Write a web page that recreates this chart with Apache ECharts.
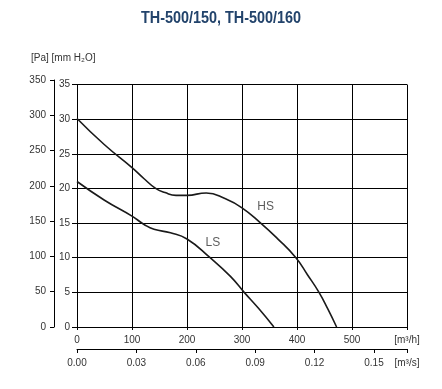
<!DOCTYPE html>
<html>
<head>
<meta charset="utf-8">
<script src="https://cdn.jsdelivr.net/npm/echarts@6/dist/echarts.min.js"></script>
<style>
  html, body { margin: 0; padding: 0; background: #fff; }
  #chart { width: 442px; height: 389px; }
</style>
</head>
<body>
<div id="chart"></div>
<script>
// ---- data (flow in m³/h, pressure in mm H2O) ----
const hsFlow     = [0, 50, 100, 122, 143, 160, 180, 200, 235, 270, 300, 334, 364, 398, 419, 440, 456, 472];
const hsPressure = [30.1, 26.3, 23.0, 21.4, 20.0, 19.4, 19.0, 19.0, 19.35, 18.5, 17.2, 15.0, 12.8, 10.0, 7.55, 5.0, 2.6, 0];
const lsFlow     = [0, 50, 100, 122, 140, 170, 200, 242, 279, 304, 330, 358];
const lsPressure = [21.0, 18.3, 16.0, 14.8, 14.1, 13.6, 12.7, 10.0, 7.3, 5.0, 2.7, 0];
const flowTicks = [0, 100, 200, 300, 400, 500];          // m³/h
const flowSecTicks = [0.00, 0.03, 0.06, 0.09, 0.12, 0.15]; // m³/s
const mmTicks = [0, 5, 10, 15, 20, 25, 30, 35];           // mm H2O
const paTicks = [0, 50, 100, 150, 200, 250, 300, 350];    // Pa
const titleText = 'TH-500/150, TH-500/160';
const seriesNames = ['HS', 'LS'];
const labelPos = { HS: [343, 17.4], LS: [247, 12.2] };

const chart = echarts.init(document.getElementById('chart'), null, { renderer: 'canvas' });
const txt = '#333';
const font = 'Liberation Sans, Arial, sans-serif';

function pairs(xs, ys) { return xs.map((x, i) => [x, ys[i]]); }

const option = {
  animation: false,
  backgroundColor: '#fff',
  graphic: [
    { type: 'text', x: 221, y: 19, scaleX: 0.9, silent: true,
      style: { text: titleText, fill: '#22436b', font: 'bold 16px ' + font, textAlign: 'center', textVerticalAlign: 'middle' } },
    { type: 'text', left: 31, top: 53, silent: true,
      style: { text: '[Pa] [mm H\u2082O]', fill: txt, font: '10px ' + font } }
  ],
  grid: [
    { left: 77, top: 84.5, right: 35, bottom: 62, containLabel: false },
    { left: 54, top: 80, width: 1, bottom: 62, containLabel: false }
  ],
  xAxis: [
    {
      gridIndex: 0, type: 'value', min: 0, max: 600, interval: 100,
      axisLine: { show: true, lineStyle: { color: '#000', width: 1 } },
      axisTick: { show: true, length: 3, lineStyle: { color: '#000' } },
      splitLine: { show: true, lineStyle: { color: '#000', width: 1 } },
      axisLabel: {
        color: txt, fontSize: 10, fontFamily: font, margin: 8,
        showMaxLabel: true,
        formatter: v => (flowTicks.indexOf(v) >= 0 ? String(v) : (v === 600 ? '[m\u00b3/h]' : ''))
      }
    },
    {
      gridIndex: 0, type: 'value', position: 'bottom', offset: 22,
      min: 0, max: 600 / 3600, interval: 0.03,
      axisLine: { show: true, onZero: false, lineStyle: { color: '#000', width: 1 } },
      axisTick: { show: true, length: 4, lineStyle: { color: '#000' } },
      splitLine: { show: false },
      axisLabel: {
        color: txt, fontSize: 10, fontFamily: font, margin: 9,
        showMaxLabel: true,
        formatter: v => {
          const m = flowSecTicks.find(t => Math.abs(t - v) < 1e-6);
          if (m !== undefined) return m.toFixed(2);
          if (Math.abs(v - 600 / 3600) < 1e-6) return '[m\u00b3/s]';
          return '';
        }
      }
    },
    { gridIndex: 1, type: 'value', min: 0, max: 1, show: false }
  ],
  yAxis: [
    {
      gridIndex: 0, type: 'value', min: 0, max: 35, interval: 5,
      axisLine: { show: true, lineStyle: { color: '#000', width: 1 } },
      axisTick: { show: true, length: 5, lineStyle: { color: '#000' } },
      splitLine: { show: true, lineStyle: { color: '#000', width: 1 } },
      axisLabel: { color: txt, fontSize: 10, fontFamily: font, margin: 7,
        formatter: v => (mmTicks.indexOf(v) >= 0 ? String(v) : '') }
    },
    {
      gridIndex: 1, type: 'value', min: 0, max: 350, interval: 50,
      axisLine: { show: true, lineStyle: { color: '#000', width: 1 } },
      axisTick: { show: true, length: 4, lineStyle: { color: '#000' } },
      splitLine: { show: false },
      axisLabel: { color: txt, fontSize: 10, fontFamily: font, margin: 8,
        formatter: v => (paTicks.indexOf(v) >= 0 ? String(v) : '') }
    }
  ],
  series: [
    {
      name: seriesNames[0], type: 'line', xAxisIndex: 0, yAxisIndex: 0,
      data: pairs(hsFlow, hsPressure), smooth: 0.5, showSymbol: false,
      lineStyle: { color: '#1a1a1a', width: 1.6 }
    },
    {
      name: seriesNames[1], type: 'line', xAxisIndex: 0, yAxisIndex: 0,
      data: pairs(lsFlow, lsPressure), smooth: 0.5, showSymbol: false,
      lineStyle: { color: '#1a1a1a', width: 1.6 }
    },
    {
      name: 'labels', type: 'scatter', xAxisIndex: 0, yAxisIndex: 0, silent: true,
      symbol: 'circle', symbolSize: 1, itemStyle: { color: 'rgba(0,0,0,0)' },
      data: seriesNames.map(n => ({ value: labelPos[n], name: n })),
      label: { show: true, position: 'inside', formatter: p => p.name, color: txt, fontSize: 12, fontFamily: font }
    }
  ]
};
chart.setOption(option);
</script>
</body>
</html>
